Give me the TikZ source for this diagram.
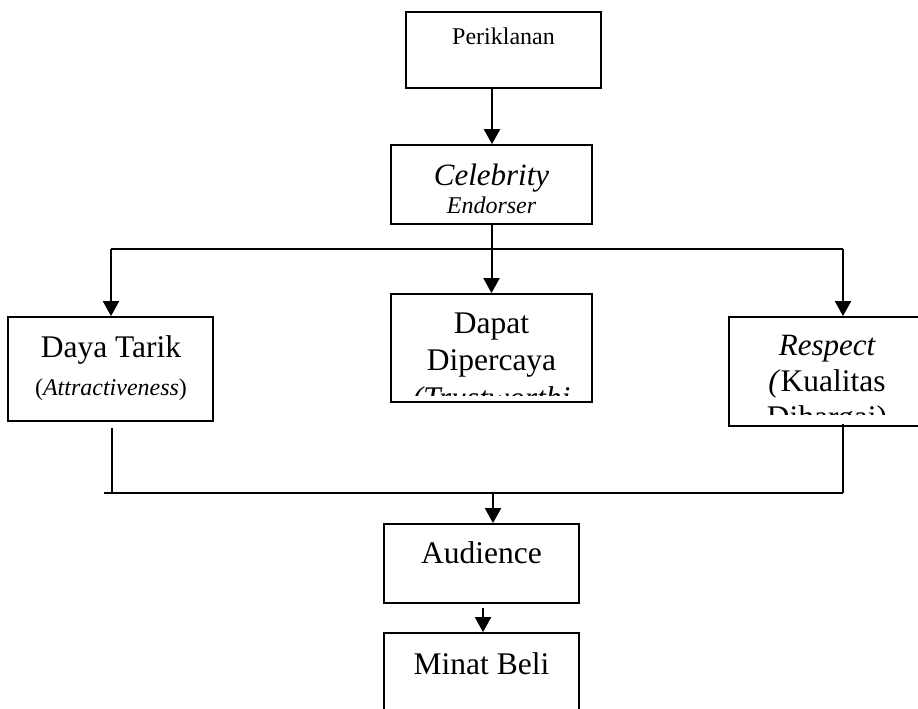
\documentclass[tikz,border=0pt]{standalone}
\usepackage{fontspec}
\setmainfont{Liberation Serif}
\usetikzlibrary{arrows.meta}
\begin{document}
\begin{tikzpicture}[x=1pt,y=-1pt,
  box/.style={draw,line width=1.8pt,rectangle,inner sep=0pt},
  conn/.style={line width=2pt,-{Triangle[width=16pt,length=15pt]}},
  bus/.style={line width=2pt},
  drop/.style={line width=1.4pt},
  big/.style={anchor=base,inner sep=0pt,font=\fontsize{31.5}{37}\selectfont},
  small/.style={anchor=base,inner sep=0pt,font=\fontsize{24}{28}\selectfont}]
\useasboundingbox (0,0) rectangle (918,709);

% boxes
\node[box,minimum width=195pt,minimum height=76pt] (per) at (503.5,50) {};
\node[box,minimum width=201pt,minimum height=79pt] (cel) at (491.5,184.5) {};
\node[box,minimum width=205pt,minimum height=104pt] (day) at (110.5,369) {};
\node[box,minimum width=201pt,minimum height=108pt] (dap) at (491.5,348) {};
\node[box,minimum width=196pt,minimum height=109pt] (res) at (827,371.5) {};
\node[box,minimum width=195pt,minimum height=79pt] (aud) at (481.5,563.5) {};
\node[box,minimum width=195pt,minimum height=90pt] (min) at (481.5,678) {};

% texts
\node[small] (tper) at (503.5,45) {Periklanan};
\node[big,font=\fontsize{31}{37}\selectfont\itshape] (tcel1) at (491.5,185) {Celebrity};
\node[small,font=\fontsize{24}{28}\selectfont\itshape] (tcel2) at (491.5,213) {Endorser};
\node[big] (tday1) at (111,357) {Daya Tarik};
\node[small] (tday2) at (111,395) {(\textit{Attractiveness})};
\node[big] (tdap1) at (491.5,333) {Dapat};
\node[big] (tdap2) at (491.5,370) {Dipercaya};
\begin{scope}
  \clip (391,294) rectangle (592,395);
  \node[big,font=\fontsize{31.5}{37}\selectfont\itshape] (tdap3) at (491.5,408) {(Trustworthi};
\end{scope}
\node[big,font=\fontsize{31}{37}\selectfont\itshape] (tres1) at (827,355) {Respect};
\node[big] (tres2) at (827,391) {\textit{(}Kualitas};
\begin{scope}
  \clip (729,317) rectangle (918,414);
  \node[big] (tres3) at (827,427) {Dihargai)};
\end{scope}
\node[big] (taud) at (481.5,563) {Audience};
\node[big] (tmin) at (481.5,674) {Minat Beli};

% connectors
\coordinate (bl) at (111,249);
\coordinate (br) at (843,249);
\coordinate (ll) at (104,493);
\coordinate (lr) at (843,493);
\coordinate (am) at (493,493);

\draw[conn] (per.south -| 492,0) -- (cel.north -| 492,0);
\draw[conn] (cel.south) -- (dap.north);
\draw[bus] (bl) -- (br);
\draw[conn] (bl) -- (bl |- day.north);
\draw[conn] (br) -- (br |- res.north);
\draw[drop] ([yshift=-6pt]day.south -| 112,0) -- (112,493);
\draw[drop] ([yshift=3pt]res.south -| lr) -- (lr);
\draw[bus] (ll) -- (lr);
\draw[conn] (am) -- (am |- aud.north);
\draw[conn] ([yshift=-4pt]aud.south -| 483,0) -- (min.north -| 483,0);
\end{tikzpicture}
\end{document}
